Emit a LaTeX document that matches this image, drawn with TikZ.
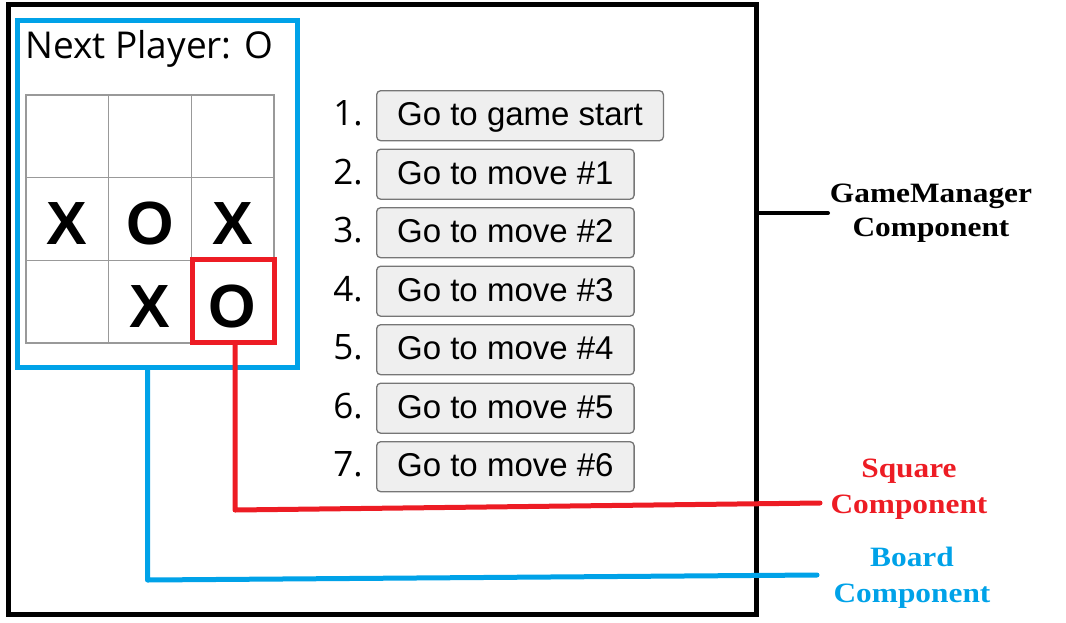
\documentclass[tikz,border=0pt]{standalone}
\usepackage{fontspec}
\setmainfont{Liberation Serif}
\newfontfamily\arialf{Liberation Sans}
\newfontfamily\segoef{Open Sans}
\definecolor{pblue}{HTML}{00A2E8}
\definecolor{pred}{HTML}{ED1C24}
\definecolor{gridgray}{HTML}{999999}
\definecolor{btnborder}{HTML}{767676}
\definecolor{btnfill}{HTML}{EFEFEF}
\tikzset{
  framebox/.style={draw=black, line width=5pt, inner sep=0pt},
  boardbox/.style={draw=pblue, line width=5pt, inner sep=0pt},
  sqbox/.style={draw=pred, line width=5pt, inner sep=0pt, minimum width=82pt, minimum height=83pt},
  cell/.style={draw=gridgray, line width=1.3pt, minimum size=82.67pt, inner sep=0pt, text height=51pt, text depth=0pt, font=\arialf\bfseries\fontsize{61}{61}\selectfont},
  btn/.style={draw=btnborder, fill=btnfill, line width=1.3pt, rounded corners=4pt, anchor=west, minimum height=50pt, inner xsep=20.5pt, inner ysep=0pt, text height=24pt, text depth=4pt, font=\arialf\fontsize{33}{33}\selectfont},
  num/.style={anchor=base east, inner sep=0pt, font=\segoef\fontsize{35}{35}\selectfont},
  lbl/.style={align=center, inner sep=0pt, xscale=1.12, font=\bfseries\fontsize{28}{36}\selectfont},
  conn/.style={line width=5pt, line cap=round, line join=round},
}
\begin{document}
\begin{tikzpicture}[x=1pt,y=-1pt]
\useasboundingbox (0,0) rectangle (1066,622);
% GameManager frame
\node[framebox, minimum width=748pt, minimum height=610pt] (gm) at (382.5,309.5) {};
% Board
\node[boardbox, minimum width=280pt, minimum height=347.5pt] (board) at (157.5,193.75) {};
\node[anchor=base west, inner sep=0pt, font=\segoef\fontsize{37}{37}\selectfont] (np) at (25,58) {Next Player: O};
% grid
\node[cell] (c11) at (67.33,136.33) {};
\node[cell] (c12) at (150,136.33) {};
\node[cell] (c13) at (232.67,136.33) {};
\node[cell] (c21) at (67.33,219) {X};
\node[cell] (c22) at (150,219) {O};
\node[cell] (c23) at (232.67,219) {X};
\node[cell] (c31) at (67.33,301.67) {};
\node[cell] (c32) at (150,301.67) {X};
\node[cell] (c33) at (232.67,301.67) {O};
\node[sqbox] (sq) at (233.5,301) {};
% move list
\node[btn] (b1) at (376,115.7) {Go to game start};
\node[btn] (b2) at (376,174.2) {Go to move \#1};
\node[btn] (b3) at (376,232.7) {Go to move \#2};
\node[btn] (b4) at (376,291.2) {Go to move \#3};
\node[btn] (b5) at (376,349.7) {Go to move \#4};
\node[btn] (b6) at (376,408.2) {Go to move \#5};
\node[btn] (b7) at (376,466.7) {Go to move \#6};
\node[num] (n1) at (363,125.7) {1.};
\node[num] (n2) at (363,184.2) {2.};
\node[num] (n3) at (363,242.7) {3.};
\node[num] (n4) at (363,301.2) {4.};
\node[num] (n5) at (363,359.7) {5.};
\node[num] (n6) at (363,418.2) {6.};
\node[num] (n7) at (363,476.7) {7.};
% labels
\node[lbl, font=\bfseries\fontsize{28}{34}\selectfont] (gmlbl) at (931,213.5) {GameManager\\Component};
\node[lbl, text=pred] (sqlbl) at (909,489) {Square\\Component};
\node[lbl, text=pblue] (bdlbl) at (912,578) {Board\\Component};
% connectors
\coordinate (gmend) at (828,213);
\draw[line width=4pt, line cap=round] (gm.east |- gmend) -- (gmend);
\coordinate (sqturn) at (235,510);
\coordinate (sqend) at (820,503);
\draw[conn, draw=pred] (sq.south -| sqturn) -- (sqturn) -- (sqend);
\coordinate (bdturn) at (147.5,580);
\coordinate (bdend) at (817,575);
\draw[conn, draw=pblue] (board.south -| bdturn) -- (bdturn) -- (bdend);
\end{tikzpicture}
\end{document}
